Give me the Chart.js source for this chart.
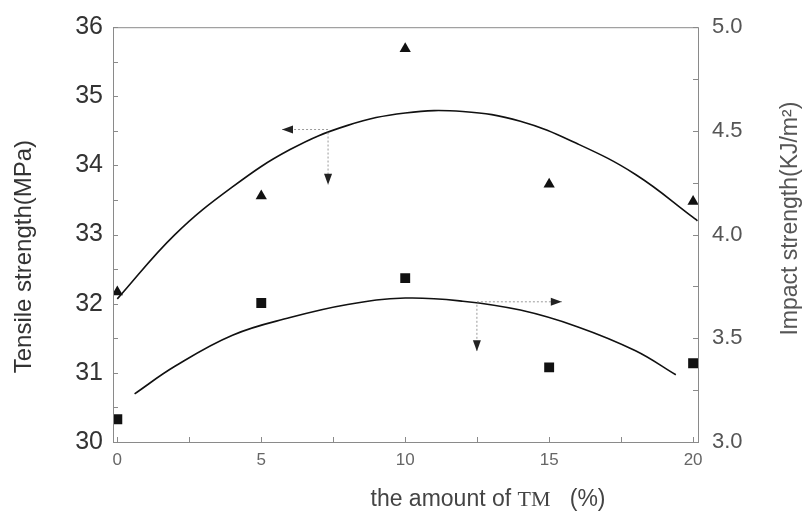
<!DOCTYPE html>
<html>
<head>
<meta charset="utf-8">
<script src="https://cdn.jsdelivr.net/npm/chart.js@4.4.1/dist/chart.umd.min.js"></script>
<style>
  html, body { margin: 0; padding: 0; background: #fff; }
  #box { width: 808px; height: 523px; }
</style>
</head>
<body>
<div id="box"><canvas id="grafico"></canvas></div>
<script>
// values
const amountTM = [0, 5, 10, 15, 20]
const tensile = [32.17, 33.56, 35.69, 33.73, 33.48]
const impact = [3.11, 3.67, 3.79, 3.36, 3.38]

// fitted curves as drawn in the figure
const tensileFitX = [0, 2, 4, 6, 8, 10, 12, 14, 16, 18, 20, 20.15]
const tensileFitY = [32.07, 33.0, 33.69, 34.23, 34.58, 34.76, 34.78, 34.64, 34.31, 33.87, 33.25, 33.2]
const impactFitX = [0.6, 2, 4, 6, 8, 10, 12, 14, 16, 18, 19.4]
const impactFitY = [3.232, 3.365, 3.515, 3.6, 3.663, 3.694, 3.679, 3.636, 3.555, 3.44, 3.324]

const xTicks = [0, 5, 10, 15, 20]
const xMinorTicks = [0, 2.5, 5, 7.5, 10, 12.5, 15, 17.5, 20]

// arrows pointing each curve to its axis: [x0, y0, xEnd, yDown, axis]
const arrows = [
    [7.32, 34.52, 5.72, 33.72, 'y'],
    [12.49, 3.676, 15.44, 3.438, 'y1']
]

function pontos(xs, ys){
    var out = []
    for(let i = 0; i < xs.length; i++){
        out.push({x: xs[i], y: ys[i]})
    }
    return out
}

function seta(ctx, x, y, dir){
    // small filled arrow head, dir: 'left' 'right' 'down'
    ctx.beginPath()
    if(dir == 'left'){
        ctx.moveTo(x, y); ctx.lineTo(x + 11, y - 4); ctx.lineTo(x + 11, y + 4)
    } else if(dir == 'right'){
        ctx.moveTo(x, y); ctx.lineTo(x - 11, y - 4); ctx.lineTo(x - 11, y + 4)
    } else {
        ctx.moveTo(x, y); ctx.lineTo(x - 4, y - 11); ctx.lineTo(x + 4, y - 11)
    }
    ctx.closePath()
    ctx.fill()
}

const moldura = {
    id: 'moldura',
    afterDatasetsDraw(chart){
        const ctx = chart.ctx
        const a = chart.chartArea
        const sx = chart.scales.x, sy = chart.scales.y, sy1 = chart.scales.y1
        ctx.save()
        ctx.strokeStyle = '#8a8a8a'
        ctx.lineWidth = 1
        ctx.strokeRect(a.left + 0.5, a.top + 0.5, a.right - a.left, a.bottom - a.top)

        // inward tick marks
        ctx.beginPath()
        xMinorTicks.forEach(function(v){
            let px = Math.round(sx.getPixelForValue(v)) + 0.5
            ctx.moveTo(px, a.bottom); ctx.lineTo(px, a.bottom - 5)
        })
        for(let v = 30; v <= 36; v += 0.5){
            let py = Math.round(sy.getPixelForValue(v)) + 0.5
            ctx.moveTo(a.left, py); ctx.lineTo(a.left + 5, py)
        }
        for(let v = 3; v <= 5; v += 0.25){
            let py = Math.round(sy1.getPixelForValue(v)) + 0.5
            ctx.moveTo(a.right, py); ctx.lineTo(a.right - 5, py)
        }
        ctx.stroke()

        // dotted guide arrows
        arrows.forEach(function(ar){
            const ys = chart.scales[ar[4]]
            let x0 = sx.getPixelForValue(ar[0]), y0 = ys.getPixelForValue(ar[1])
            let x1 = sx.getPixelForValue(ar[2]), y1 = ys.getPixelForValue(ar[3])
            ctx.strokeStyle = '#9a9a9a'
            ctx.setLineDash([2, 2])
            ctx.beginPath()
            ctx.moveTo(x0, y0); ctx.lineTo(x1, y0)
            ctx.moveTo(x0, y0 + 3); ctx.lineTo(x0, y1)
            ctx.stroke()
            ctx.setLineDash([])
            ctx.fillStyle = '#222'
            seta(ctx, x1, y0, x1 < x0 ? 'left' : 'right')
            seta(ctx, x0, y1, 'down')
        })
        ctx.restore()
    },
    afterDraw(chart){
        const ctx = chart.ctx
        const a = chart.chartArea
        ctx.save()
        ctx.textBaseline = 'middle'
        ctx.textAlign = 'center'

        // left axis title
        ctx.fillStyle = '#333'
        ctx.font = '24px "Liberation Sans", Arial, sans-serif'
        ctx.translate(a.left - 89, (a.top + a.bottom) / 2 + 22)
        ctx.rotate(-Math.PI / 2)
        ctx.fillText('Tensile strength(MPa)', 0, 0)
        ctx.restore()

        // right axis title, reads bottom to top
        ctx.save()
        ctx.textBaseline = 'middle'
        ctx.textAlign = 'center'
        ctx.fillStyle = '#555'
        ctx.font = '23px "Liberation Sans", Arial, sans-serif'
        ctx.translate(a.right + 93, (a.top + a.bottom) / 2 - 16)
        ctx.rotate(-Math.PI / 2)
        ctx.fillText('Impact strength(KJ/m²)', 0, 0)
        ctx.restore()

        // x axis title, TM in a serif face
        ctx.save()
        ctx.textBaseline = 'middle'
        ctx.fillStyle = '#444'
        var p1 = 'the amount of ', p2 = 'TM', p3 = '   (%)'
        var fs = '23px "Liberation Sans", Arial, sans-serif'
        var fr = '22px "Liberation Serif", "Times New Roman", serif'
        ctx.font = fs
        var w1 = ctx.measureText(p1).width, w3 = ctx.measureText(p3).width
        ctx.font = fr
        var w2 = ctx.measureText(p2).width
        var x = a.left + 375 - (w1 + w2 + w3) / 2
        var y = a.bottom + 58
        ctx.textAlign = 'left'
        ctx.font = fs
        ctx.fillText(p1, x, y)
        ctx.font = fr
        ctx.fillText(p2, x + w1, y)
        ctx.font = fs
        ctx.fillText(p3, x + w1 + w2, y)
        ctx.restore()
    }
}

const ctx = document.getElementById('grafico').getContext('2d')
const myChart = new Chart(ctx, {
    type: 'scatter',
    data: {
        datasets: [{
            label: 'Tensile',
            data: pontos(amountTM, tensile),
            yAxisID: 'y',
            pointStyle: 'triangle',
            pointRadius: 6.5,
            backgroundColor: '#111',
            borderColor: '#111',
            borderWidth: 0
        }, {
            label: 'Impact',
            data: pontos(amountTM, impact),
            yAxisID: 'y1',
            pointStyle: 'rect',
            pointRadius: 7,
            backgroundColor: '#111',
            borderColor: '#111',
            borderWidth: 0
        }, {
            label: 'Tensile fit',
            data: pontos(tensileFitX, tensileFitY),
            yAxisID: 'y',
            showLine: true,
            pointRadius: 0,
            borderColor: '#111',
            borderWidth: 1.6,
            tension: 0.4
        }, {
            label: 'Impact fit',
            data: pontos(impactFitX, impactFitY),
            yAxisID: 'y1',
            showLine: true,
            pointRadius: 0,
            borderColor: '#111',
            borderWidth: 1.6,
            tension: 0.4
        }]
    },
    options: {
        responsive: true,
        maintainAspectRatio: false,
        animation: false,
        layout: { padding: { top: 21, left: 0, right: 0, bottom: 0 } },
        plugins: { legend: { display: false }, tooltip: { enabled: false } },
        scales: {
            x: {
                type: 'linear',
                min: -0.15,
                max: 20.17,
                afterBuildTicks: function(s){ s.ticks = xTicks.map(v => ({value: v})) },
                afterFit: function(s){ s.height = 81 },
                grid: { display: false, drawTicks: false },
                border: { display: false },
                ticks: {
                    padding: 8,
                    color: '#666',
                    font: { family: '"Liberation Sans", Arial, sans-serif', size: 17 },
                    maxRotation: 0
                }
            },
            y: {
                position: 'left',
                min: 30,
                max: 36,
                afterFit: function(s){ s.width = 113 },
                grid: { display: false, drawTicks: false },
                border: { display: false },
                ticks: {
                    stepSize: 1,
                    padding: 10,
                    color: '#333',
                    font: { family: '"Liberation Sans", Arial, sans-serif', size: 25 }
                }
            },
            y1: {
                position: 'right',
                min: 3,
                max: 5,
                afterFit: function(s){ s.width = 110 },
                grid: { display: false, drawTicks: false },
                border: { display: false },
                ticks: {
                    stepSize: 0.5,
                    padding: 14,
                    color: '#555',
                    font: { family: '"Liberation Sans", Arial, sans-serif', size: 22 },
                    callback: function(v){ return v.toFixed(1) }
                }
            }
        }
    },
    plugins: [moldura]
})
</script>
</body>
</html>
